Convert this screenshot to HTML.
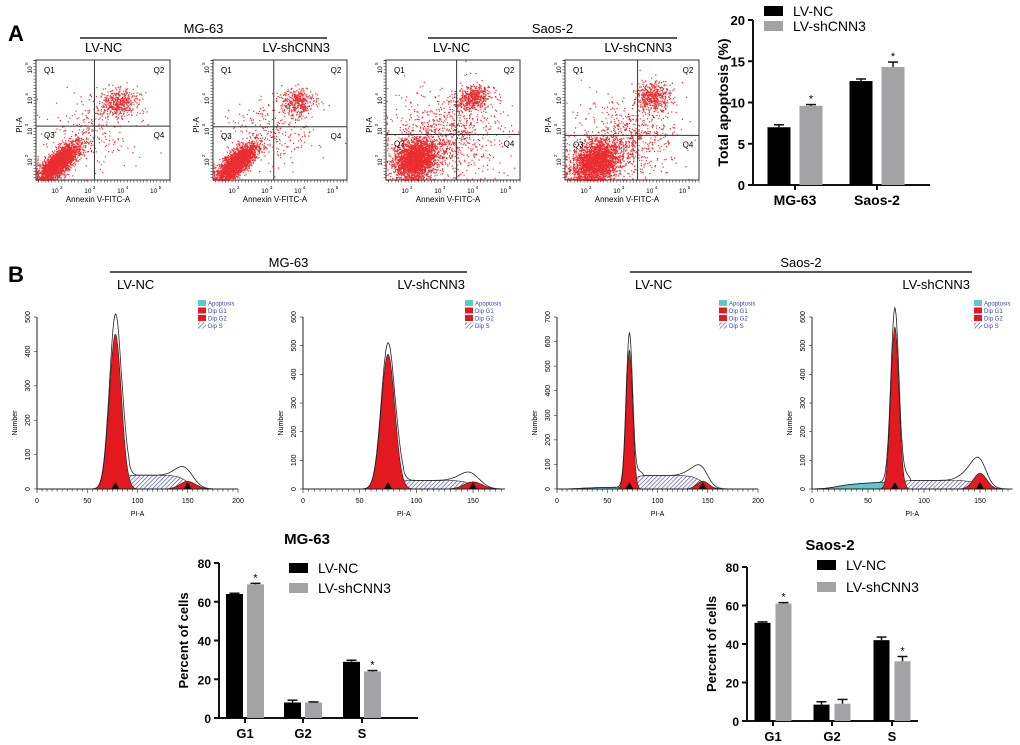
<!DOCTYPE html>
<html><head><meta charset="utf-8">
<style>
html,body{margin:0;padding:0;background:#fff;}
svg{display:block;font-family:"Liberation Sans",Arial,sans-serif;}
</style></head>
<body>
<svg id="fig" width="1020" height="745" viewBox="0 0 1020 745" xmlns="http://www.w3.org/2000/svg">
<defs>
<pattern id="hatch" patternUnits="userSpaceOnUse" width="3" height="3" patternTransform="rotate(45)">
<rect width="3" height="3" fill="#fff"/><line x1="0" y1="0" x2="0" y2="3" stroke="#3b3fb0" stroke-width="1.2"/>
</pattern>
</defs>
<text x="8" y="41" font-size="22" font-weight="bold">A</text>
<text x="8" y="282" font-size="22" font-weight="bold">B</text>
<g id="root"></g>
</svg>
<script>
// ---------- data ----------
const apoCategories = ["MG-63","Saos-2"];
const apoNC = [7.0, 12.6];
const apoSh = [9.6, 14.3];
const apoNCerr = [0.3, 0.25];
const apoSherr = [0.15, 0.6];
const apoTicks = [0,5,10,15,20];

const cycleCategories = ["G1","G2","S"];
const mgNC = [64, 8, 29];
const mgSh = [69, 8, 24];
const mgNCerr = [0.4, 1.2, 0.8];
const mgSherr = [0.5, 0.3, 0.5];
const saNC = [51, 8.5, 42];
const saSh = [61, 9, 31];
const saNCerr = [0.5, 1.5, 1.6];
const saSherr = [0.5, 2.2, 2.5];
const cycleTicks = [0,20,40,60,80];

// histogram model parameters (PI-A units / counts)
const histYMax = [500, 600, 700, 600];
const histXMax = [200, 178, 200, 179];
const histG1Mean = [78, 75, 72, 74];
const histG1Height = [450, 470, 565, 565];
const histG1Sd = [6, 6, 3.2, 3.6];
const histPeakOutline = [495, 500, 610, 600];
const histSLevel = [40, 30, 55, 30];
const histG2Mean = [150, 150, 145, 150];
const histG2Height = [22, 25, 32, 55];
const histG2Sd = [8, 8, 6, 6];
const histBump = [30, 28, 60, 75];
const histApoHeight = [0, 0, 8, 28];
const histApoMean = [40, 40, 50, 62];

// scatter clusters: [cx, cy, sdAlong, sdAcross, count] in log10 units
const scatterClusters = [
 [[2.1,2.0,0.4,0.15,2800],[3.95,3.95,0.28,0.22,420],[3.1,3.0,0.7,0.6,260]],
 [[2.15,2.0,0.4,0.15,2500],[4.0,3.95,0.25,0.22,380],[3.2,3.0,0.7,0.6,260]],
 [[2.3,2.1,0.35,0.28,3000],[4.05,4.1,0.28,0.2,520],[3.2,2.8,0.8,0.7,900]],
 [[2.35,2.0,0.4,0.3,2800],[4.1,4.15,0.26,0.22,430],[3.3,2.8,0.8,0.7,750]]
];
const quadV = [3.2, 3.27, 3.57, 3.63];
const quadH = [3.17, 3.15, 2.9, 2.87];

// ---------- helpers ----------
const NS="http://www.w3.org/2000/svg";
const root=document.getElementById('root');
function mk(tag,attrs,parent,txt){const e=document.createElementNS(NS,tag);for(const k in attrs)e.setAttribute(k,attrs[k]);if(txt!==undefined)e.textContent=txt;(parent||root).appendChild(e);return e;}

// ---------- headers ----------
function header(text,x1,x2,y,lbl1,lbl1x,lbl2,lbl2x,lblY,name){
  const g=mk('g',{});
  
  
  mk('text',{x:(x1+x2)/2,y:y-5,'font-size':13,'text-anchor':'middle'},g,text);
  mk('line',{x1:x1,x2:x2,y1:y,y2:y,stroke:'#222','stroke-width':1.5},g);
  mk('text',{x:lbl1x,y:lblY,'font-size':13},g,lbl1);
  mk('text',{x:lbl2x,y:lblY,'font-size':13,'text-anchor':'end'},g,lbl2);
}
header('MG-63',80,327,38,'LV-NC',85,'LV-shCNN3',330,52,'mg63-scatter-header');
header('Saos-2',428,677,38,'LV-NC',433,'LV-shCNN3',672,52,'saos2-scatter-header');
header('MG-63',110,467,272,'LV-NC',117,'LV-shCNN3',465,289,'mg63-histogram-header');
header('Saos-2',630,972,272,'LV-NC',635,'LV-shCNN3',970,289,'saos2-histogram-header');

// ---------- scatter plots ----------
const scatterX=[36,213,386,565];
let seed=12345;
function rnd(){seed=(seed*1103515245+12345)&0x7fffffff;return seed/0x7fffffff;}
function gauss(){let u=rnd()||1e-6,v=rnd();return Math.sqrt(-2*Math.log(u))*Math.cos(2*Math.PI*v);}
scatterClusters.forEach((clusters,i)=>{
  const L=scatterX[i],R=L+134,T=60,B=180;
  const lx=d=>L+(d-1.42)/(5.5-1.42)*(R-L);
  const ly=d=>B-(d-1.42)/(5.32-1.42)*(B-T);
  const g=mk('g',{});
  
  
  mk('rect',{x:L,y:T,width:R-L,height:B-T,fill:'#fff',stroke:'#333','stroke-width':1},g);
  let pts='';
  clusters.forEach((c,ci)=>{
    for(let k=0;k<c[4];k++){
      const a=gauss()*c[2],b=gauss()*c[3];
      const ang=ci===0?Math.PI/4:0.2;
      let x=c[0]+a*Math.cos(ang)-b*Math.sin(ang), y=c[1]+a*Math.sin(ang)+b*Math.cos(ang);
      if(x<1.42)x=1.42+rnd()*0.05; if(y<1.42)y=1.42+rnd()*0.05;
      if(x>5.45||y>5.3)continue;
      pts+='M'+lx(x).toFixed(1)+' '+ly(y).toFixed(1)+'h1.2v1.2h-1.2z';
    }
  });
  const p=mk('path',{d:pts,fill:'#e8161b','fill-opacity':0.9},g);
  
  
  mk('line',{x1:lx(quadV[i]),x2:lx(quadV[i]),y1:T,y2:B,stroke:'#333'},g);
  mk('line',{x1:L,x2:R,y1:ly(quadH[i]),y2:ly(quadH[i]),stroke:'#333'},g);
  mk('text',{x:L+8,y:T+13,'font-size':8},g,'Q1');
  mk('text',{x:R-11,y:T+13,'font-size':8,'text-anchor':'middle'},g,'Q2');
  mk('text',{x:L+8,y:ly(quadH[i])+12,'font-size':8},g,'Q3');
  mk('text',{x:R-11,y:ly(quadH[i])+12,'font-size':8,'text-anchor':'middle'},g,'Q4');
  for(let d=2;d<=5;d++){
    const tx=lx(d), ty=ly(d);
    mk('text',{x:tx,y:B+13,'font-size':6.5,'text-anchor':'middle'},g,'10');
    mk('text',{x:tx+5,y:B+9,'font-size':4.5},g,String(d));
    mk('text',{x:0,y:0,'font-size':6.5,'text-anchor':'middle',transform:`translate(${L-4},${ty}) rotate(-90)`},g,'10');
    mk('text',{x:0,y:0,'font-size':4.5,transform:`translate(${L-8},${ty-5}) rotate(-90)`},g,String(d));
  }
  for(let d=1.5;d<5.5;d+=0.1){
    const tx=lx(d); const ty=ly(Math.min(d,5.3));
    mk('line',{x1:tx,x2:tx,y1:B,y2:B+2.5,stroke:'#333','stroke-width':0.6},g);
    mk('line',{x1:L,x2:L-2.5,y1:ty,y2:ty,stroke:'#333','stroke-width':0.6},g);
  }
  mk('text',{x:(L+R)/2-5,y:B+22,'font-size':8,'text-anchor':'middle'},g,'Annexin V-FITC-A');
  mk('text',{x:0,y:0,'font-size':8,'text-anchor':'middle',transform:`translate(${L-14},${(T+B)/2+5}) rotate(-90)`},g,'PI-A');
});

// ---------- histograms ----------
const histX0=[37,303,557,812];
const histPxPerUnit=[(238-37)/200,(473-303)/150,(758-557)/200,(980-812)/150];
const histXTicks=[[0,50,100,150,200],[0,50,100,150],[0,50,100,150,200],[0,50,100,150]];
const histLegendX=[198,465,719,974];
const HY0=489, HYT=317;
function sig(z){return 1/(1+Math.exp(-z));}
for(let i=0;i<4;i++){
  const g=mk('g',{});
  
  
  const x0=histX0[i], k=histPxPerUnit[i], xm=histXMax[i];
  const X=v=>x0+v*k, Y=v=>HY0-v/histYMax[i]*(HY0-HYT);
  const g1=v=>histG1Height[i]*Math.exp(-0.5*((v-histG1Mean[i])/histG1Sd[i])**2);
  const g2=v=>histG2Height[i]*Math.exp(-0.5*((v-histG2Mean[i])/histG2Sd[i])**2);
  const s=v=>histSLevel[i]*sig((v-histG1Mean[i]-2)/3)*sig((histG2Mean[i]-v)/5);
  const apo=v=>histApoHeight[i]*sig((v-20)/6)*sig((histG1Mean[i]+4-v)/2.5)*(0.5+0.5*(v-20)/(histApoMean[i]));
  const bump=v=>histBump[i]*Math.exp(-0.5*((v-histG2Mean[i]+6)/9)**2);
  const outline=v=>{const base=g1(v)*histPeakOutline[i]/histG1Height[i]+s(v)+g2(v)+apo(v);return base+bump(v)*0.6+ (v>histG1Mean[i]+6&&v<histG1Mean[i]+14?18:0)*Math.exp(-0.5*((v-histG1Mean[i]-10)/3)**2);};
  function area(f,fill,nm){
    let d=`M${X(0)} ${Y(0)}`;
    for(let v=0;v<=xm;v+=0.5)d+=`L${X(v).toFixed(1)} ${Y(f(v)).toFixed(1)}`;
    d+=`L${X(xm)} ${Y(0)}Z`;
    const p=mk('path',{d:d,fill:fill,stroke:'#222','stroke-width':0.6},g);
    
    
  }
  area(apo,'#5ec7cc','apoptosis-area');
  area(s,'url(#hatch)','s-phase-area');
  area(g1,'#e3191f','g1-peak');
  area(g2,'#e3191f','g2-peak');
  let d='';
  for(let v=0;v<=xm;v+=0.5)d+=(v?'L':'M')+X(v).toFixed(1)+' '+Y(outline(v)).toFixed(1);
  const o=mk('path',{d:d,fill:'none',stroke:'#222','stroke-width':0.8},g);
  
  
  mk('line',{x1:x0,x2:x0,y1:HYT,y2:HY0,stroke:'#222','stroke-width':1},g);
  mk('line',{x1:x0,x2:X(xm),y1:HY0,y2:HY0,stroke:'#222','stroke-width':1},g);
  for(let v=0;v<=xm;v+=5){const big=v%50===0;mk('line',{x1:X(v),x2:X(v),y1:HY0,y2:HY0+(big?4:2.5),stroke:'#222','stroke-width':0.6},g);}
  histXTicks[i].forEach(t=>mk('text',{x:X(t),y:HY0+14,'font-size':7,'text-anchor':'middle'},g,String(t)));
  for(let t=0;t<=histYMax[i];t+=100){
    mk('line',{x1:x0,x2:x0-3,y1:Y(t),y2:Y(t),stroke:'#222','stroke-width':0.6},g);
    mk('text',{x:0,y:0,'font-size':7,'text-anchor':'middle',transform:`translate(${x0-7},${Y(t)}) rotate(-90)`},g,String(t));
  }
  mk('text',{x:(x0+X(xm))/2,y:HY0+27,'font-size':7,'text-anchor':'middle'},g,'PI-A');
  mk('text',{x:0,y:0,'font-size':7,'text-anchor':'middle',transform:`translate(${x0-20},${(HY0+HYT)/2+20}) rotate(-90)`},g,'Number');
  [histG1Mean[i],histG2Mean[i]].forEach(m=>mk('path',{d:`M${X(m)-4} ${HY0}L${X(m)+4} ${HY0}L${X(m)} ${HY0-7}Z`,fill:'#111'},g));
  const lg=mk('g',{},g);
  
  
  const lx=histLegendX[i];
  const labs=['Apoptosis','Dip G1','Dip G2','Dip S'], fills=['#5ec7cc','#e3191f','#e3191f','url(#hatch)'];
  labs.forEach((l,j)=>{
    mk('rect',{x:lx,y:300+j*7.5,width:8,height:6,fill:fills[j]},lg);
    mk('text',{x:lx+10,y:305.5+j*7.5,'font-size':6,fill:'#3c45b5'},lg,l);
  });
}

// ---------- bar charts ----------
function barChart(o){
  const g=mk('g',{});
  
  
  const Y=v=>o.y0-v/o.max*(o.y0-o.yTop);
  mk('line',{x1:o.ax,x2:o.ax,y1:o.yTop,y2:o.y0,stroke:'#111','stroke-width':2},g);
  mk('line',{x1:o.ax,x2:o.xEnd,y1:o.y0,y2:o.y0,stroke:'#111','stroke-width':2},g);
  o.ticks.forEach(t=>{
    mk('line',{x1:o.ax,x2:o.ax-5,y1:Y(t),y2:Y(t),stroke:'#111','stroke-width':2},g);
    mk('text',{x:o.ax-8,y:Y(t)+5,'font-size':o.fs,'font-weight':'bold','text-anchor':'end'},g,String(t));
  });
  o.cats.forEach((c,ci)=>{
    const cx=o.centers[ci];
    mk('line',{x1:cx,x2:cx,y1:o.y0,y2:o.y0+5,stroke:'#111','stroke-width':2},g);
    mk('text',{x:cx,y:o.y0+20,'font-size':o.fs+1,'font-weight':'bold','text-anchor':'middle'},g,c);
    [[o.a,o.ae,'#000','lv-nc'],[o.b,o.be,'#a3a3a6','lv-shcnn3']].forEach((s,si)=>{
      const v=s[0][ci], e=s[1][ci];
      const bx=si===0?cx-o.gap/2-o.bw:cx+o.gap/2;
      const r=mk('rect',{x:bx,y:Y(v),width:o.bw,height:o.y0-Y(v),fill:s[2]},g);
      
      
      const mx=bx+o.bw/2;
      mk('line',{x1:mx,x2:mx,y1:Y(v),y2:Y(v+e),stroke:'#111','stroke-width':1.5},g);
      mk('line',{x1:mx-5,x2:mx+5,y1:Y(v+e),y2:Y(v+e),stroke:'#111','stroke-width':1.5},g);
      if(si===1 && o.star[ci]) mk('text',{x:mx,y:Y(v+e)-2,'font-size':11,'text-anchor':'middle'},g,'*');
    });
  });
  mk('text',{x:0,y:0,'font-size':o.fs+1,'font-weight':'bold','text-anchor':'middle',transform:`translate(${o.titleX},${(o.y0+o.yTop)/2}) rotate(-90)`},g,o.ytitle);
  if(o.title) mk('text',{x:o.titleCx,y:o.titleY,'font-size':15,'font-weight':'bold','text-anchor':'middle'},g,o.title);
  const lg=mk('g',{},g);
  
  
  mk('rect',{x:o.lx,y:o.ly,width:19,height:10,fill:'#000'},lg);
  mk('rect',{x:o.lx,y:o.ly+o.lgap,width:19,height:10,fill:'#a3a3a6'},lg);
  mk('text',{x:o.lx+29,y:o.ly+10,'font-size':14},lg,'LV-NC');
  mk('text',{x:o.lx+29,y:o.ly+o.lgap+10,'font-size':14},lg,'LV-shCNN3');
}
barChart({name:'total-apoptosis-chart',ax:753,yTop:20,y0:185,xEnd:930,max:20,ticks:apoTicks,fs:13,
  cats:apoCategories,centers:[795,877],a:apoNC,b:apoSh,ae:apoNCerr,be:apoSherr,star:[1,1],bw:23,gap:9,
  ytitle:'Total apoptosis (%)',titleX:728,lx:764,ly:6,lgap:15});
barChart({name:'mg63-cell-cycle-chart',ax:219,yTop:563,y0:718,xEnd:418,max:80,ticks:cycleTicks,fs:12,
  cats:cycleCategories,centers:[245,303,362],a:mgNC,b:mgSh,ae:mgNCerr,be:mgSherr,star:[1,0,1],bw:17,gap:4,
  ytitle:'Percent of cells',titleX:188,title:'MG-63',titleCx:307,titleY:544,lx:289,ly:563,lgap:20});
barChart({name:'saos2-cell-cycle-chart',ax:747,yTop:567,y0:721,xEnd:918,max:80,ticks:cycleTicks,fs:12,
  cats:cycleCategories,centers:[773,832,892],a:saNC,b:saSh,ae:saNCerr,be:saSherr,star:[1,0,1],bw:16,gap:5,
  ytitle:'Percent of cells',titleX:716,title:'Saos-2',titleCx:830,titleY:550,lx:817,ly:560,lgap:22});
</script>
</body></html>
